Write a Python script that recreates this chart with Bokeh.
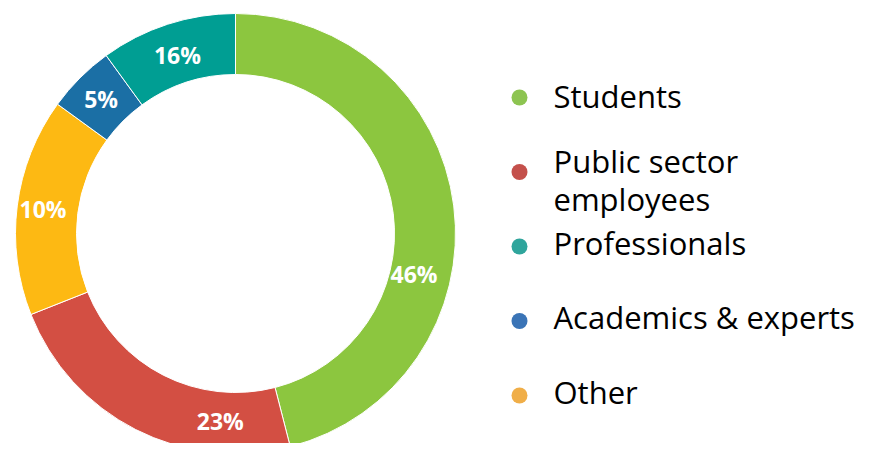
import numpy as np
from bokeh.plotting import figure
from bokeh.models import Range1d, ColumnDataSource
from bokeh.core.properties import value
from bokeh.embed import file_html
from bokeh.resources import INLINE

# ---- data (clockwise from 12 o'clock, as drawn) ----
slice_names = ["Students", "Public sector employees", "Other", "Academics & experts", "Professionals"]
slice_shares = [46, 23, 16, 5, 10]          # angular share of each ring segment
slice_labels = ["46%", "23%", "10%", "5%", "16%"]  # printed labels
slice_colors = ["#8CC63F", "#D34F43", "#FDB913", "#1B6FA5", "#009E93"]

legend_names = ["Students", "Public sector\nemployees", "Professionals", "Academics & experts", "Other"]
legend_colors = ["#8DC451", "#C4504B", "#2FA59C", "#3A74B6", "#F0AE48"]

# ---- layout / style ----
W, H = 858, 443
cx, cy = 235, H - 233
r_out, r_in = 220, 159
label_frac = [0.62, 0.23, 0.5, 0.5, 0.5]
label_r = [183, 188, 194, 190, 188]

p = figure(width=W, height=H, output_backend="svg", toolbar_location=None,
           x_range=Range1d(0, W), y_range=Range1d(0, H), min_border=0)
p.axis.visible = False
p.grid.visible = False
p.outline_line_color = None
p.background_fill_color = "white"
p.border_fill_color = "white"

shares = np.array(slice_shares, dtype=float)
frac = shares / shares.sum()
cum_end = np.cumsum(frac) * 2 * np.pi
cum_start = cum_end - frac * 2 * np.pi
start = np.pi / 2 - cum_start
end = np.pi / 2 - cum_end

src = ColumnDataSource(dict(start=start, end=end, color=slice_colors, name=slice_names))
p.annular_wedge(x=cx, y=cy, inner_radius=r_in, outer_radius=r_out,
                start_angle="start", end_angle="end", direction="clock",
                fill_color="color", line_color="white", line_width=1, source=src)

# labels
lang = [s + f * (e - s) for s, e, f in zip(cum_start, cum_end, label_frac)]
lx = [cx + r * np.sin(a) for a, r in zip(lang, label_r)]
ly = [cy + r * np.cos(a) for a, r in zip(lang, label_r)]
p.text(x=lx, y=ly, text=slice_labels, text_color="white",
       text_font=value("Open Sans"), text_font_style="bold", text_font_size="23px",
       text_align="center", text_baseline="middle")

# legend
dot_x = 519
text_x = 553
dot_top = H - 97
spacing = 74.5
line_gap = 38
dot_y = [dot_top - i * spacing for i in range(len(legend_names))]
p.scatter(x=[dot_x] * len(dot_y), y=dot_y, size=16, marker="circle",
          fill_color=legend_colors, line_color=None)
tx, ty, tt = [], [], []
for i, n in enumerate(legend_names):
    lines = n.split("\n")
    if len(lines) > 1:
        base = dot_y[i] + 11.5
    elif i == 0:
        base = dot_y[i] + 2
    else:
        base = dot_y[i] + 4
    for j, ln in enumerate(lines):
        tx.append(text_x)
        ty.append(base - j * line_gap)
        tt.append(ln)
p.text(x=tx, y=ty, text=tt, text_color="black",
       text_font=value("Open Sans"), text_font_size="31px",
       text_align="left", text_baseline="middle")

open("out.html", "w").write(file_html(p, INLINE))
